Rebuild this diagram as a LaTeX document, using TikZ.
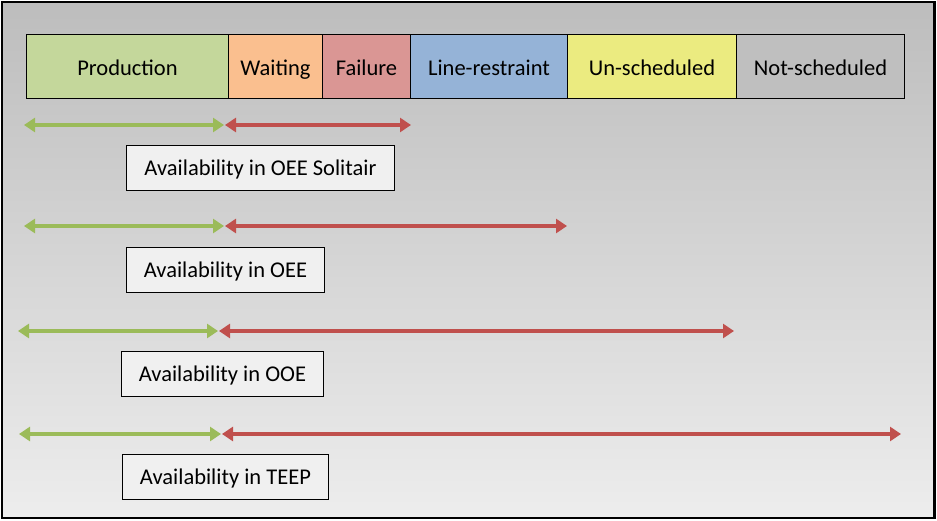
\documentclass[tikz,border=0pt]{standalone}
\usepackage{fontspec}
\setmainfont{Carlito}
\usetikzlibrary{arrows.meta}
\definecolor{cprod}{HTML}{C4D79B}
\definecolor{cwait}{HTML}{FABF8F}
\definecolor{cfail}{HTML}{DA9694}
\definecolor{cline}{HTML}{95B3D7}
\definecolor{cunsch}{HTML}{EBEB80}
\definecolor{cnotsch}{HTML}{BFBFBF}
\definecolor{agreen}{HTML}{9BBB59}
\definecolor{ared}{HTML}{C0504D}
\definecolor{bgtop}{HTML}{BDBDBD}
\definecolor{bgbot}{HTML}{EDEDED}
\definecolor{boxfill}{HTML}{F0F0F0}
\tikzset{
  cell/.style={draw=black, line width=1pt, minimum height=64pt, inner sep=0pt, anchor=north west, text height=18pt, text depth=1pt, font=\fontsize{22.5}{27}\selectfont},
  label/.style={draw=black, line width=1pt, fill=boxfill, minimum height=45pt, inner sep=0pt, anchor=north west, text height=17pt, text depth=1.5pt, font=\fontsize{22.5}{27}\selectfont},
  garrow/.style={draw=agreen, line width=4pt, {Triangle[length=11pt,width=14pt]}-{Triangle[length=11pt,width=14pt]}},
  rarrow/.style={draw=ared, line width=4pt, {Triangle[length=11pt,width=14pt]}-{Triangle[length=11pt,width=14pt]}},
}
\begin{document}
\begin{tikzpicture}[x=1pt,y=-1pt]
\useasboundingbox (0,0) rectangle (937,520);
\shade[top color=bgtop, bottom color=bgbot] (2,2) rectangle (934.5,518);
\draw[line width=2.5pt] (2,2) rectangle (934.5,518);

\node[cell, fill=cprod, minimum width=202pt] (prod) at (26,34) {Production};
\node[cell, fill=cwait, minimum width=94pt] (wait) at (228,34) {Waiting};
\node[cell, fill=cfail, minimum width=88pt] (fail) at (322,34) {Failure};
\node[cell, fill=cline, minimum width=157pt] (line) at (410,34) {Line-restraint};
\node[cell, fill=cunsch, minimum width=169pt] (unsch) at (567,34) {Un-scheduled};
\node[cell, fill=cnotsch, minimum width=168pt] (notsch) at (736,34) {Not-scheduled};

% row 1
\coordinate (g1a) at (24,125); \coordinate (g1b) at (224,125);
\coordinate (r1a) at (225,125); \coordinate (r1b) at (411,125);
\draw[garrow] (g1a) -- (g1b);
\draw[rarrow] (r1a) -- (r1b);
\node[label, minimum width=268pt] (l1) at (126,145) {Availability in OEE Solitair};

% row 2
\coordinate (g2a) at (24,226); \coordinate (g2b) at (224,226);
\coordinate (r2a) at (225,226); \coordinate (r2b) at (567,226);
\draw[garrow] (g2a) -- (g2b);
\draw[rarrow] (r2a) -- (r2b);
\node[label, minimum width=198pt] (l2) at (126,247) {Availability in OEE};

% row 3
\coordinate (g3a) at (18,331); \coordinate (g3b) at (218,331);
\coordinate (r3a) at (219,331); \coordinate (r3b) at (734,331);
\draw[garrow] (g3a) -- (g3b);
\draw[rarrow] (r3a) -- (r3b);
\node[label, minimum width=202pt] (l3) at (121,351) {Availability in OOE};

% row 4
\coordinate (g4a) at (19,434); \coordinate (g4b) at (221,434);
\coordinate (r4a) at (222,434); \coordinate (r4b) at (901,434);
\draw[garrow] (g4a) -- (g4b);
\draw[rarrow] (r4a) -- (r4b);
\node[label, minimum width=206pt] (l4) at (122,454) {Availability in TEEP};
\end{tikzpicture}
\end{document}
